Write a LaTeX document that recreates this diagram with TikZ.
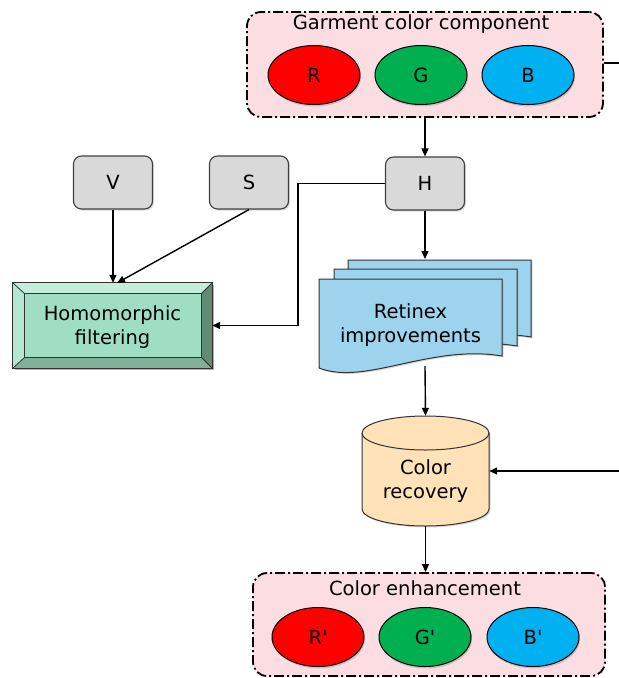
\documentclass[tikz,border=0pt]{standalone}
\usepackage{fontspec}
\setmainfont{DejaVu Sans}[Ligatures=TeXOff]
\usetikzlibrary{shapes.geometric,arrows.meta,shadows,calc}
\definecolor{pinkbg}{RGB}{252,222,226}
\definecolor{grayfill}{RGB}{217,217,217}
\definecolor{rred}{RGB}{255,0,0}
\definecolor{ggreen}{RGB}{0,176,80}
\definecolor{bblue}{RGB}{0,176,240}
\definecolor{docblue}{RGB}{157,211,237}
\definecolor{cylpeach}{RGB}{255,226,184}
\definecolor{hfmain}{RGB}{160,222,195}
\definecolor{hftop}{RGB}{196,238,219}
\definecolor{hfleft}{RGB}{178,232,207}
\definecolor{hfright}{RGB}{96,140,118}
\definecolor{hfbottom}{RGB}{128,176,152}
\begin{document}
\begin{tikzpicture}[x=1pt,y=-1pt,
  font=\fontsize{19.5}{23.5}\selectfont,
  container/.style={draw=black, fill=pinkbg, line width=1.8pt, rounded corners=14pt,
    dash pattern=on 10pt off 3pt on 2pt off 3pt, inner sep=0pt},
  chan/.style={ellipse, draw=black, line width=1pt, minimum width=92pt, minimum height=59pt,
    inner sep=0pt, drop shadow={shadow xshift=1pt, shadow yshift=-2pt, opacity=0.35}},
  graybox/.style={rectangle, rounded corners=8pt, draw=black!75, fill=grayfill, line width=1.1pt,
    minimum width=79pt, minimum height=53pt, inner sep=0pt,
    drop shadow={shadow xshift=1.5pt, shadow yshift=-1.5pt, opacity=0.3}},
  arr/.style={-{Triangle[length=8pt,width=7pt]}, line width=1.4pt},
  ln/.style={line width=1.4pt},
  ttl/.style={inner sep=0pt, align=center},
  bev/.style={draw=black!80, line width=0.8pt},
  docstyle/.style={fill=docblue, draw=black!80, line width=1pt},
]
\useasboundingbox (0,0) rectangle (619,678);

% ---------- top container ----------
\node[container, minimum width=356pt, minimum height=105pt] (gcc) at (425,64.5) {};
\node[ttl] (gtitle) at (421,24) {Garment color component};
\node[chan, fill=rred] (r) at (314,75) {R};
\node[chan, fill=ggreen] (g) at (421,75) {G};
\node[chan, fill=bblue] (b) at (528,75) {B};

% ---------- gray boxes ----------
\node[graybox] (v) at (113,182.5) {V};
\node[graybox] (s) at (249,182.5) {S};
\node[graybox] (h) at (425,183.5) {H};

% ---------- homomorphic filtering (bevel) ----------
\node[minimum width=199pt, minimum height=85pt, inner sep=0pt] (hf) at (112.5,325.5) {};
\coordinate (o1) at (hf.north west);
\coordinate (o2) at (hf.north east);
\coordinate (o3) at (hf.south east);
\coordinate (o4) at (hf.south west);
\coordinate (i1) at ($(o1)+(12,11)$);
\coordinate (i2) at ($(o2)+(-11,11)$);
\coordinate (i3) at ($(o3)+(-11,-11)$);
\coordinate (i4) at ($(o4)+(12,-11)$);
\fill[black, opacity=0.3] ($(o1)+(2,2)$) rectangle ($(o3)+(2,2)$);
\fill[hftop] (o1) -- (o2) -- (i2) -- (i1) -- cycle;
\fill[hfright] (o2) -- (o3) -- (i3) -- (i2) -- cycle;
\fill[hfbottom] (o3) -- (o4) -- (i4) -- (i3) -- cycle;
\fill[hfleft] (o4) -- (o1) -- (i1) -- (i4) -- cycle;
\fill[hfmain] (i1) rectangle (i3);
\draw[bev] (o1) rectangle (o3);
\draw[bev] (i1) rectangle (i3);
\draw[bev] (o1) -- (i1) (o2) -- (i2) (o3) -- (i3) (o4) -- (i4);
\node[ttl] (hftext) at (112.5,327) {Homomorphic\\filtering};

% ---------- retinex multi-document ----------
\foreach \dx/\dy in {29/-19, 15/-10, 0/0} {
  \begin{scope}[shift={(\dx,\dy)}]
    \path[docstyle, drop shadow={shadow xshift=1.5pt, shadow yshift=-1.5pt, opacity=0.3}]
      (319,279) -- (502,279) -- (502,356)
      .. controls (430,344) and (365,386) .. (319,368) -- cycle;
  \end{scope}
}
\node[ttl] (rf) at (410.5,325) {Retinex\\improvements};
\coordinate (rbtop) at (425,259);
\coordinate (rfbot) at (425,366);

% ---------- cylinder ----------
\node[minimum width=127pt, minimum height=110pt, inner sep=0pt] (cyl) at (425.5,471) {};
\path[fill=cylpeach, draw=black!80, line width=1pt,
      drop shadow={shadow xshift=1.5pt, shadow yshift=-1.5pt, opacity=0.3}]
  (362,433) -- (362,509) arc[start angle=180, end angle=360, x radius=63.5pt, y radius=17pt]
  -- (489,433) arc[start angle=0, end angle=180, x radius=63.5pt, y radius=17pt] -- cycle;
\draw[black!80, line width=1pt] (489,433) arc[start angle=0, end angle=-180, x radius=63.5pt, y radius=17pt];
\node[ttl] (cyltext) at (425.5,481) {Color\\recovery};

% ---------- bottom container ----------
\node[container, minimum width=352pt, minimum height=103pt] (ce) at (429,624.5) {};
\node[ttl] (cetitle) at (425,588) {Color enhancement};
\node[chan, fill=rred] (r2) at (318,637) {R'};
\node[chan, fill=ggreen] (g2) at (425,637) {G'};
\node[chan, fill=bblue] (b2) at (533,637) {B'};

% ---------- connectors ----------
\coordinate (tedge) at (619,63);
\coordinate (redge) at (619,471);
\coordinate (hbend) at (298,183.5);
\coordinate (sfoot) at (117,283);
\draw[ln] (gcc.east |- tedge) -- (tedge);
\draw[arr] (gcc.south -| h.north) -- (h.north);
\draw[arr] (v.south) -- (v.south |- hf.north);
\draw[arr] (s.south) -- (sfoot);
\draw[arr] (h.west) -- (hbend) |- (hf.east);
\draw[arr] (h.south) -- (rbtop);
\draw[arr] (rfbot) -- (cyl.north);
\draw[arr] (redge) -- (cyl.east);
\draw[arr] (cyl.south) -- (cyl.south |- ce.north);
\end{tikzpicture}
\end{document}
